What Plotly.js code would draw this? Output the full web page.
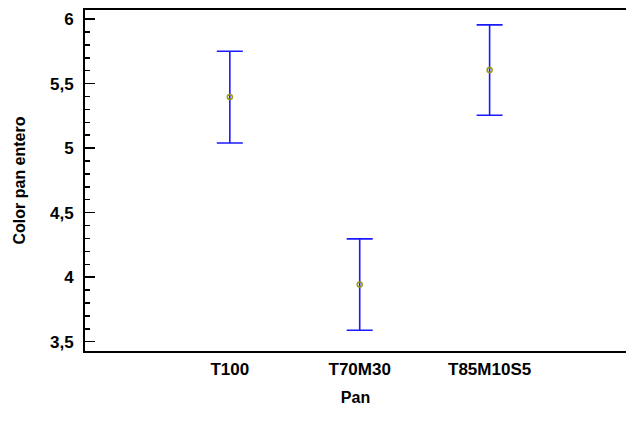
<!DOCTYPE html>
<html>
<head>
<meta charset="utf-8">
<script src="https://cdn.plot.ly/plotly-3.0.1.min.js"></script>
<style>
  html, body { margin: 0; padding: 0; background: #fff; }
  #chart { width: 627px; height: 441px; }
</style>
</head>
<body>
<div id="chart"></div>
<script>
// Mean "Color pan entero" per bread type, with interval half-widths
const categories = ["T100", "T70M30", "T85M10S5"];
const means = [5.395, 3.943, 5.605];
const halfWidths = [0.355, 0.354, 0.35];
const yTickValues = [3.5, 4, 4.5, 5, 5.5, 6];

const tickFont = { family: "Liberation Sans, Arial, sans-serif", size: 17, weight: "bold", color: "#000" };
const titleFont = { family: "Liberation Sans, Arial, sans-serif", size: 16, weight: "bold", color: "#000" };

const trace = {
  type: "scatter",
  mode: "markers",
  x: [1, 2, 3],
  y: means,
  error_y: {
    type: "data",
    array: halfWidths,
    visible: true,
    color: "#1a1aff",
    thickness: 1.6,
    width: 13
  },
  marker: {
    symbol: "circle-open",
    size: 5,
    color: "#9a9a10",
    line: { width: 1.5, color: "#9a9a10" }
  },
  hoverinfo: "skip",
  showlegend: false
};

const layout = {
  width: 627,
  height: 441,
  margin: { l: 85, r: 1, t: 10, b: 90 },
  paper_bgcolor: "#fff",
  plot_bgcolor: "#fff",
  separators: ",.",
  font: tickFont,
  xaxis: {
    range: [-0.115, 4.05],
    tickmode: "array",
    tickvals: [1, 2, 3],
    ticktext: categories,
    ticks: "",
    showgrid: false,
    zeroline: false,
    showline: true,
    linecolor: "#000",
    linewidth: 2,
    mirror: true,
    tickfont: tickFont,
    ticklabelstandoff: 2,
    title: { text: "Pan", font: titleFont, standoff: 13 }
  },
  yaxis: {
    range: [3.428, 6.07],
    tickmode: "array",
    tickvals: yTickValues,
    ticks: "inside",
    ticklen: 10,
    tickwidth: 1.5,
    tickcolor: "#000",
    minor: { ticks: "inside", dtick: 0.1, ticklen: 5, tickwidth: 1.5, tickcolor: "#000" },
    showgrid: false,
    zeroline: false,
    showline: true,
    linecolor: "#000",
    linewidth: 2,
    tickfont: tickFont,
    ticklabelstandoff: 6,
    title: { text: "Color pan entero", font: titleFont, standoff: 20 }
  }
};

Plotly.newPlot("chart", [trace], layout, { staticPlot: true, displayModeBar: false });
</script>
</body>
</html>
